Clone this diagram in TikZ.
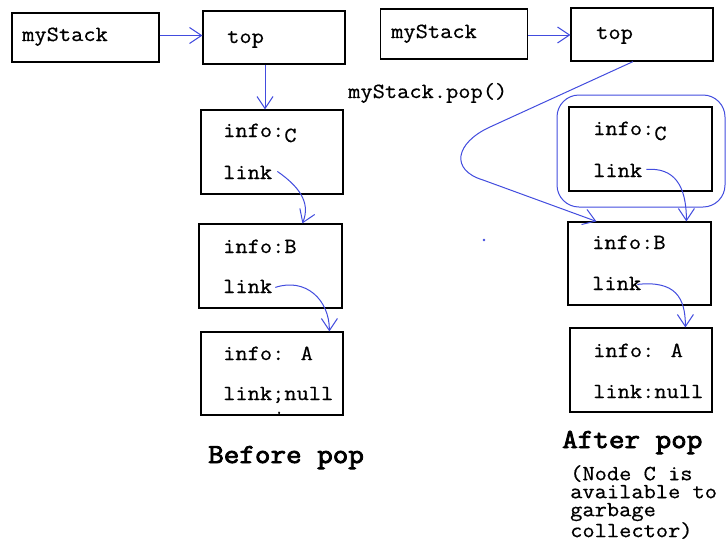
\documentclass[tikz,border=0pt]{standalone}
\usepackage{fontspec}
\newfontfamily\mytt{Latin Modern Mono}[FakeStretch=1.1,FakeBold=0.6]
\newfontfamily\myttb{Latin Modern Mono}[FakeStretch=1.1,FakeBold=3]
\usetikzlibrary{arrows.meta}
\definecolor{lineblue}{RGB}{66,76,222}
\tikzset{
  box/.style={draw=black, line width=1.2pt, inner sep=0pt},
  txt/.style={inner sep=0pt, anchor=base west, font=\mytt\fontsize{21.6pt}{24pt}\selectfont},
  bigtxt/.style={inner sep=0pt, anchor=base west, font=\myttb\fontsize{27.5pt}{30pt}\selectfont},
  arr/.style={draw=lineblue, line width=1pt, -{Straight Barb[length=12pt,width=16pt,line width=1pt]}},
  gcbox/.style={draw=lineblue, line width=1pt, rounded corners=22pt, inner sep=0pt}
}
\begin{document}
\begin{tikzpicture}[x=1pt,y=-1pt]
\useasboundingbox (0,0) rectangle (727,544);
% ---------- before pop ----------
\node[box, minimum width=147pt, minimum height=49pt] (myL) at (85.5,37.5) {};
\node[box, minimum width=142pt, minimum height=53pt] (topL) at (274,37.5) {};
\node[box, minimum width=142pt, minimum height=84pt] (CL) at (272,152) {};
\node[box, minimum width=143pt, minimum height=84pt] (BL) at (270.5,266) {};
\node[box, minimum width=142pt, minimum height=83pt] (AL) at (272,373.5) {};

\node[txt] (myLt) at (22,41) {myStack};
\node[txt] (topLt) at (227,43) {top};
\node[txt] (iCL) at (223,137) {info:\raisebox{-5pt}{C}};
\node[txt] (lCL) at (223,179) {link};
\node[txt] (iBL) at (223,253) {info:B};
\node[txt] (lBL) at (223,293) {link};
\node[txt] (iAL) at (223,360) {info: A};
\node[txt] (lAL) at (223,400) {link;null};
\node[inner sep=0pt, anchor=base, font=\mytt\fontsize{12pt}{14pt}\selectfont] (cm) at (279,413) {,};
\node[bigtxt] (bef) at (208,463) {Before pop};

\draw[arr] ([yshift=2pt]myL.east) -- ([yshift=2pt]myL.east -| topL.west);
\draw[arr] ([xshift=-9pt]topL.south) -- ([xshift=-9pt]topL.south |- CL.north);
\draw[arr] ([xshift=5pt,yshift=1pt]lCL.east) .. controls +(20,14) and +(9,-22) .. ([xshift=104pt]BL.north west);
\draw[arr] ([xshift=3pt,yshift=-1pt]lBL.east) .. controls +(30,-10) and +(0,-32) .. ([xshift=129pt]AL.north west);

% ---------- after pop ----------
\node[box, minimum width=147pt, minimum height=50pt] (myR) at (454,34) {};
\node[box, minimum width=142pt, minimum height=53pt] (topR) at (642,34.5) {};
\node[gcbox, minimum width=168pt, minimum height=112pt] (gc) at (641,151) {};
\node[box, minimum width=143pt, minimum height=84pt] (CR) at (640.5,149) {};
\node[box, minimum width=143pt, minimum height=83pt] (BR) at (639.5,263.5) {};
\node[box, minimum width=142pt, minimum height=84pt] (AR) at (641,370) {};

\node[txt] (myRt) at (391,38) {myStack};
\node[txt] (topRt) at (596,39) {top};
\node[txt] (popt) at (348,98) {myStack.pop()};
\node[txt] (iCR) at (593,135) {info:\raisebox{-5pt}{C}};
\node[txt] (lCR) at (593,177) {link};
\node[txt] (iBR) at (592,249) {info:B};
\node[txt] (lBR) at (592,290) {link};
\node[txt] (iAR) at (593,357) {info: A};
\node[txt] (lAR) at (593,398) {link:null};
\node[bigtxt] (aft) at (562,448) {After pop};
\node[txt, anchor=north west, align=left, font=\mytt\fontsize{21.6pt}{18pt}\selectfont] (note) at (570,465) {(Node C is\\available to\\garbage\\collector)};

\draw[arr] ([yshift=-1pt]myR.east) -- ([yshift=-1pt]myR.east -| topR.west);
\draw[arr] ([xshift=4pt,yshift=1pt]lCR.east) .. controls +(28,-2) and +(0,-36) .. ([xshift=119pt]BR.north west);
\draw[arr] ([xshift=-4pt,yshift=-1pt]lBR.east) .. controls +(38,-4) and +(0,-30) .. ([xshift=116pt]AR.north west);
\draw[arr] ([xshift=-9pt]topR.south) -- (490,127) .. controls (455,143) and (450,170) .. (483,180) -- ([xshift=29pt]BR.north west);
\fill[lineblue] (484,240) circle (1.3pt);
\end{tikzpicture}
\end{document}
